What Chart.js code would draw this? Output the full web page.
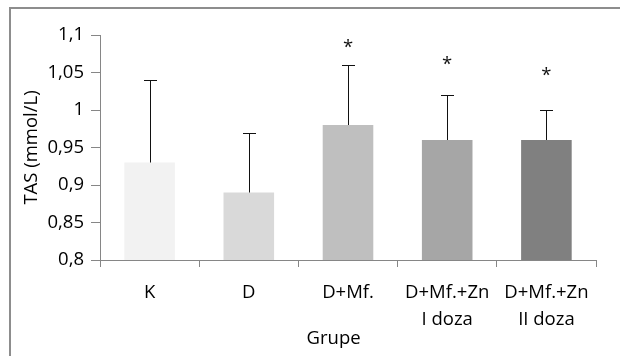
<!DOCTYPE html>
<html>
<head>
<meta charset="utf-8">
<script src="https://cdn.jsdelivr.net/npm/chart.js@4.4.1/dist/chart.umd.min.js"></script>
<style>
    html, body { margin: 0; padding: 0; background: #fff; overflow: hidden; }
    #wrap { position: relative; width: 620px; height: 356px; }
    #frame { position: absolute; left: 9px; top: 7px; width: 700px; height: 400px;
             border-left: 2px solid #8d8d8d; border-top: 2px solid #8d8d8d; }
    canvas { position: absolute; left: 0; top: 0; }
</style>
</head>
<body>
<div id="wrap">
    <div id="frame"></div>
    <canvas id="tasChart" width="620" height="356"></canvas>
</div>
<script>
/* TAS po grupama — stupci sa standardnom devijacijom */

const groups = [['K'], ['D'], ['D+Mf.'], ['D+Mf.+Zn', 'I doza'], ['D+Mf.+Zn', 'II doza']];
const tasMeans = [0.93, 0.89, 0.98, 0.96, 0.96];
const tasSD = [0.11, 0.08, 0.08, 0.06, 0.04];
const marks = ['', '', '*', '*', '*'];
const markLevels = [null, null, 1.087, 1.064, 1.05];
const yTicks = [0.8, 0.85, 0.9, 0.95, 1, 1.05, 1.1];

const barColors = ['#f2f2f2', '#d9d9d9', '#bfbfbf', '#a6a6a6', '#808080'];
const axisGray = '#868686';
const fontFamily = "'Open Sans', sans-serif";
const textSize = 18.5;

const errorBars = {
    id: 'errorBars',
    afterDatasetsDraw(chart) {
        const { ctx, scales: { x, y } } = chart;
        ctx.save();
        ctx.strokeStyle = '#111';
        ctx.lineWidth = 1;
        tasMeans.forEach((m, i) => {
            const px = Math.round(x.getPixelForValue(i)) + 0.5;
            const yTop = Math.round(y.getPixelForValue(m + tasSD[i])) + 0.5;
            const yBase = y.getPixelForValue(m);
            ctx.beginPath();
            ctx.moveTo(px, yBase);
            ctx.lineTo(px, yTop);
            ctx.moveTo(px - 6.5, yTop);
            ctx.lineTo(px + 6.5, yTop);
            ctx.stroke();
        });
        ctx.fillStyle = '#111';
        ctx.font = textSize + "px " + fontFamily;
        ctx.textAlign = 'center';
        ctx.textBaseline = 'middle';
        marks.forEach((t, i) => {
            if (!t) return;
            ctx.fillText(t, x.getPixelForValue(i), y.getPixelForValue(markLevels[i]) + 3);
        });
        ctx.restore();
    }
};

new Chart(document.getElementById('tasChart'), {
    type: 'bar',
    data: {
        labels: groups,
        datasets: [{
            data: tasMeans,
            backgroundColor: barColors,
            borderWidth: 0,
            barPercentage: 0.51,
            categoryPercentage: 1
        }]
    },
    options: {
        responsive: false,
        animation: false,
        layout: { padding: { left: 0, top: 35, right: 24, bottom: 0 } },
        plugins: { legend: { display: false }, tooltip: { enabled: false } },
        scales: {
            x: {
                grid: { drawOnChartArea: false, color: axisGray, tickLength: 7, offset: true },
                border: { color: axisGray, width: 1 },
                ticks: {
                    color: '#000', padding: 12,
                    font: { family: fontFamily, size: textSize, lineHeight: 1.45 },
                    maxRotation: 0, autoSkip: false
                },
                title: {
                    display: true, text: 'Grupe      ', color: '#000',
                    font: { family: fontFamily, size: textSize }, padding: { top: 0, bottom: 6 }
                },
                afterFit(scale) { scale.height = 96; }
            },
            y: {
                min: 0.8,
                max: 1.1,
                afterBuildTicks(scale) { scale.ticks = yTicks.map(v => ({ value: v })); },
                grid: { drawOnChartArea: false, color: axisGray, tickLength: 9 },
                border: { color: axisGray, width: 1 },
                ticks: {
                    color: '#000', padding: 7,
                    font: { family: fontFamily, size: textSize },
                    callback: v => String(Number(v.toFixed(2))).replace('.', ',')
                },
                title: {
                    display: true, text: 'TAS (mmol/L)', color: '#000',
                    font: { family: fontFamily, size: textSize }, padding: { top: 21, bottom: 0 }
                },
                afterFit(scale) { scale.width = 100; }
            }
        }
    },
    plugins: [errorBars]
});
</script>
</body>
</html>
